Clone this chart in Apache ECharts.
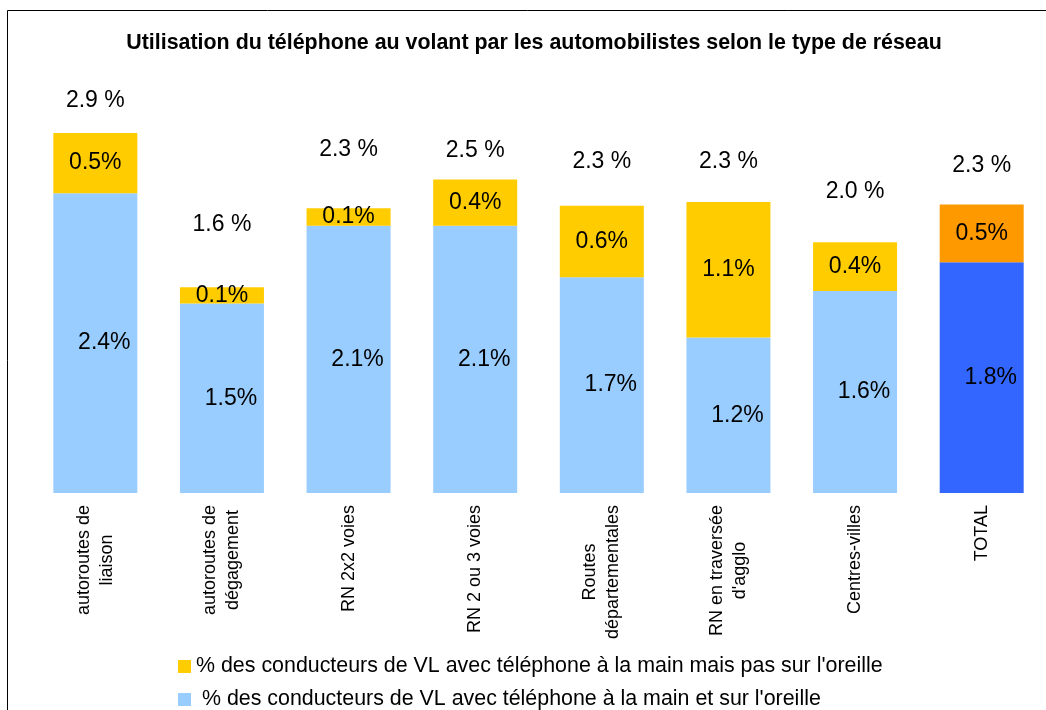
<!DOCTYPE html>
<html lang="fr">
<head>
    <meta charset="UTF-8">
    <title>Téléphone au volant</title>
    <style>
        * {
        margin: 0;
        padding: 0;
        }
        #chart-container {
        position: relative;
        width: 1046px;
        height: 710px;
        overflow: hidden;
        background: #fff;
        }
    </style>
</head>
<body>
    <div id="chart-container"></div>
    <script src="https://cdn.jsdelivr.net/npm/echarts@6/dist/echarts.min.js"></script>
    <script>
        // data
        var categories = [
            'autoroutes de\nliaison',
            'autoroutes de\ndégagement',
            'RN 2x2 voies',
            'RN 2 ou 3 voies',
            'Routes\ndépartementales',
            "RN en traversée\nd'agglo",
            'Centres-villes',
            'TOTAL'
        ];
        var seriesNames = [
            "% des conducteurs de VL avec téléphone à la main mais pas sur l'oreille",
            " % des conducteurs de VL avec téléphone à la main et sur l'oreille"
        ];
        var handAndEar = [2.39, 1.51, 2.13, 2.13, 1.72, 1.24, 1.61, 1.84];
        var handNotEar = [0.48, 0.13, 0.14, 0.37, 0.57, 1.08, 0.39, 0.46];
        var totals = handAndEar.map(function (v, i) { return v + handNotEar[i]; });

        // the total labels were placed by hand in the original, so lift each one
        var totalLift = [20, 51, 47, 17, 32, 28, 38, 27];

        var FONT = "'Liberation Sans', Arial, sans-serif";
        var lastIdx = categories.length - 1;

        var dom = document.getElementById('chart-container');
        var myChart = echarts.init(dom, null, { renderer: 'canvas' });

        var option = {
            animation: false,
            textStyle: { fontFamily: FONT },
            graphic: [{
                type: 'rect',
                shape: { x: 7.5, y: 10.5, width: 1100, height: 800 },
                style: { fill: 'none', stroke: '#000', lineWidth: 1 },
                silent: true
            }],
            title: {
                text: 'Utilisation du téléphone au volant par les automobilistes selon le type de réseau',
                left: 534,
                top: 33,
                padding: 0,
                textAlign: 'center',
                textStyle: { fontFamily: FONT, fontSize: 21.4, fontWeight: 'bold', color: '#000' }
            },
            legend: {
                orient: 'vertical',
                left: 178,
                top: 656,
                width: 800,
                height: 90,
                padding: 0,
                itemGap: 12,
                itemWidth: 13,
                itemHeight: 13,
                icon: 'rect',
                data: seriesNames,
                textStyle: { fontFamily: FONT, fontSize: 21.4, color: '#000' }
            },
            grid: { left: 32, width: 1013, top: 54, bottom: 217 },
            xAxis: {
                type: 'category',
                data: categories,
                axisLine: { show: false },
                axisTick: { show: false },
                axisLabel: {
                    interval: 0,
                    rotate: 90,
                    margin: 12,
                    color: '#000',
                    formatter: function (v) {
                        return v.split('\n').map(function (l) { return '{c|' + l + '}'; }).join('\n');
                    },
                    rich: {
                        c: { align: 'center', fontFamily: FONT, fontSize: 18, lineHeight: 23, color: '#000' }
                    }
                }
            },
            yAxis: {
                type: 'value',
                min: 0,
                max: 3.5,
                show: false,
                splitLine: { show: false }
            },
            series: [
                {
                    name: seriesNames[1],
                    type: 'bar',
                    stack: 'tel',
                    barWidth: 84,
                    itemStyle: { color: '#99CCFF' },
                    label: {
                        show: true,
                        position: 'inside',
                        offset: [9, 0],
                        fontFamily: FONT,
                        fontSize: 23,
                        color: '#000',
                        formatter: function (p) { return p.value.toFixed(1) + '%'; }
                    },
                    data: handAndEar.map(function (v, i) {
                        return i === lastIdx ? { value: v, itemStyle: { color: '#3366FF' } } : v;
                    })
                },
                {
                    name: seriesNames[0],
                    type: 'bar',
                    stack: 'tel',
                    barWidth: 84,
                    itemStyle: { color: '#FFCC00' },
                    label: {
                        show: true,
                        position: 'inside',
                        fontFamily: FONT,
                        fontSize: 23,
                        color: '#000',
                        formatter: function (p) { return p.value.toFixed(1) + '%'; }
                    },
                    data: handNotEar.map(function (v, i) {
                        return i === lastIdx ? { value: v, itemStyle: { color: '#FF9900' } } : v;
                    })
                },
                {
                    name: 'total',
                    type: 'scatter',
                    silent: true,
                    symbolSize: 1,
                    itemStyle: { color: 'rgba(0,0,0,0)', opacity: 1 },
                    label: {
                        show: true,
                        position: 'top',
                        fontFamily: FONT,
                        fontSize: 23,
                        color: '#000',
                        opacity: 1,
                        formatter: function (p) { return p.value.toFixed(1) + ' %'; }
                    },
                    data: totals.map(function (v, i) {
                        return { value: v, label: { distance: totalLift[i] } };
                    })
                }
            ]
        };

        myChart.setOption(option);
        window.addEventListener('resize', myChart.resize);
    </script>
</body>
</html>
